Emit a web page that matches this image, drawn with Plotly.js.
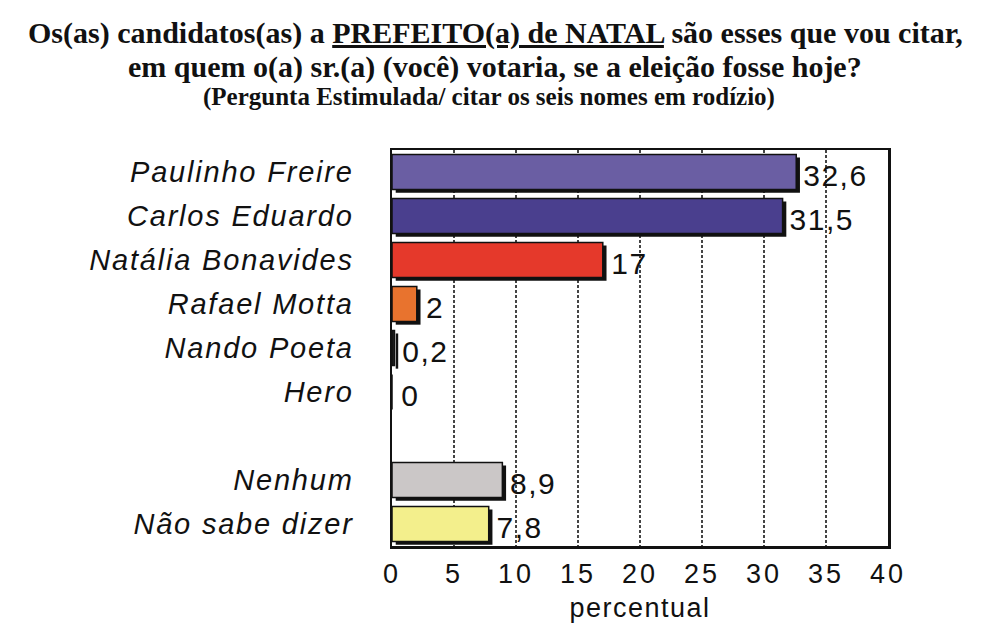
<!DOCTYPE html>
<html><head><meta charset="utf-8">
<script src="https://cdn.plot.ly/plotly-3.0.1.min.js"></script>
<style>
html,body{margin:0;padding:0;background:#fff}
#chart{width:993px;height:635px}
#chart .ytick text{letter-spacing:1.8px}
#chart .xtick text{letter-spacing:3px}
#chart .bartext text, #chart text.bartext{letter-spacing:1.5px}
#chart .xtitle{letter-spacing:1.5px}
</style>
</head><body><div id="chart"></div>
<script>
var categories = ['Paulinho Freire','Carlos Eduardo','Natália Bonavides','Rafael Motta','Nando Poeta','Hero','Nenhum','Não sabe dizer'];
var values = [32.6, 31.5, 17, 2, 0.2, 0, 8.9, 7.8];
var barColors = ['#6a5ea3','#4a3f8e','#e5392b','#e8732e','#222222','#222222','#cbc7c7','#f3ef8c'];
var spacerLabel = ' ';
var xTicks = [0,5,10,15,20,25,30,35,40];
var titleLines = [
  'Os(as) candidatos(as) a <u>PREFEITO(a) de NATAL</u> são esses que vou citar,',
  'em quem o(a) sr.(a) (você) votaria, se a eleição fosse hoje?',
  '(Pergunta Estimulada/ citar os seis nomes em rodízio)'
];

var categoryOrder = categories.slice(0,6).concat([spacerLabel]).concat(categories.slice(6));
var labelFont = 'Liberation Sans, Arial, sans-serif';

var shadow = {
  type:'bar', orientation:'h',
  x: values, y: categories, base: 0.3,
  width:0.8, offset:-0.33,
  marker:{color:'#111', line:{width:0}},
  text: values.map(function(v){return '\u200A' + String(v).replace('.',',');}),
  textposition:'outside', cliponaxis:false,
  textfont:{family:labelFont, size:30, color:'#111'},
  hoverinfo:'none'
};
var bars = {
  type:'bar', orientation:'h',
  x: values, y: categories,
  width:0.8, offset:-0.4,
  marker:{color:barColors, line:{color:'#111', width:1.5}},
  hoverinfo:'none'
};

var layout = {
  width:993, height:635,
  margin:{l:392, r:105, t:150, b:89},
  paper_bgcolor:'#fff', plot_bgcolor:'#fff',
  barmode:'overlay',
  showlegend:false,
  annotations:[
    {text:'<b>'+titleLines[0]+'</b>', xref:'paper', yref:'paper', x:0.2077, y:1.295, xanchor:'center', yanchor:'middle', showarrow:false,
     font:{family:'Liberation Serif, serif', size:30, color:'#111'}},
    {text:'<b>'+titleLines[1]+'</b>', xref:'paper', yref:'paper', x:0.2077, y:1.209, xanchor:'center', yanchor:'middle', showarrow:false,
     font:{family:'Liberation Serif, serif', size:30, color:'#111'}},
    {text:'<b>'+titleLines[2]+'</b>', xref:'paper', yref:'paper', x:0.196, y:1.134, xanchor:'center', yanchor:'middle', showarrow:false,
     font:{family:'Liberation Serif, serif', size:25, color:'#111'}}
  ],
  xaxis:{
    range:[0,40], tickvals:xTicks, ticktext:xTicks.map(String),
    showgrid:true, gridcolor:'#444', griddash:'3px,2px', gridwidth:1.2,
    zeroline:false,
    showline:true, linecolor:'#111', linewidth:2.5, mirror:true,
    ticks:'outside', ticklen:2, tickcolor:'rgba(0,0,0,0)',
    tickfont:{family:labelFont, size:27, color:'#111'},
    title:{text:'percentual', font:{family:labelFont, size:27, color:'#111'}, standoff:10}
  },
  yaxis:{
    type:'category', categoryorder:'array', categoryarray:categoryOrder,
    autorange:'reversed',
    showgrid:false, zeroline:false,
    showline:true, linecolor:'#111', linewidth:2.5, mirror:true,
    ticks:'outside', ticklen:30, tickcolor:'rgba(0,0,0,0)',
    tickfont:{family:labelFont, size:29, color:'#111', style:'italic'}
  }
};

Plotly.newPlot('chart', [shadow, bars], layout, {displayModeBar:false, staticPlot:true});
</script></body></html>
